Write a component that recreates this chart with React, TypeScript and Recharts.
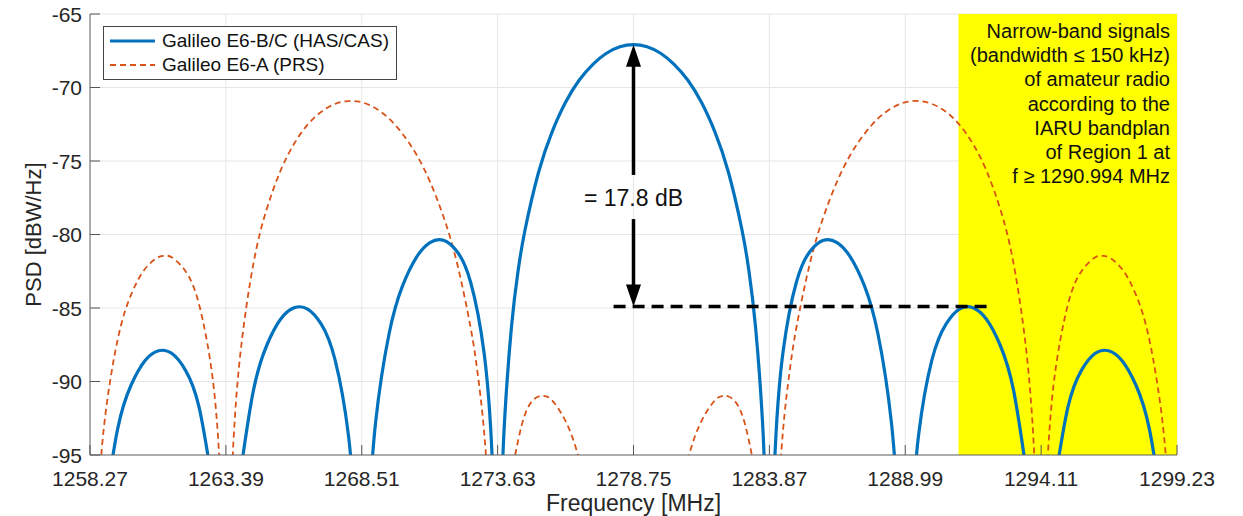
import React from 'react';
import {
  CartesianGrid,
  Legend,
  Line,
  LineChart,
  ReferenceArea,
  ReferenceDot,
  ReferenceLine,
  XAxis,
  YAxis,
} from 'recharts';

// ----------------------------------------------------------------------

const FONT = '"Liberation Sans", Arial, Helvetica, sans-serif';
const BLUE = '#0072BD';
const ORANGE = '#D95319';

const freqTicks = [1258.27, 1263.39, 1268.51, 1273.63, 1278.75, 1283.87, 1288.99, 1294.11, 1299.23];
const psdTicks = [-95, -90, -85, -80, -75, -70, -65];

// Galileo E6-B/C (HAS/CAS); null = spectral null (−∞ dB)
const e6bcFreq = [
  1258.29, 1258.8, 1259.31, 1259.82, 1260.34, 1260.85, 1261.36, 1261.87, 1262.38, 1262.89,
  1263.41, 1263.92, 1264.43, 1264.94, 1265.45, 1265.96, 1266.47, 1266.99, 1267.5,
  1268.01, 1268.26, 1268.52, 1268.78, 1269.03, 1269.54, 1270.05, 1270.57, 1271.08,
  1271.59, 1272.1, 1272.61, 1273.12, 1273.38, 1273.48, 1273.64, 1273.79, 1273.89, 1274.15,
  1274.4, 1274.66, 1275.17, 1275.68, 1276.19, 1276.7, 1277.22, 1277.73, 1278.24, 1278.75,
  1279.26, 1279.77, 1280.28, 1280.8, 1281.31, 1281.82, 1282.33, 1282.84, 1283.1, 1283.35,
  1283.61, 1283.71, 1283.87, 1284.02, 1284.12, 1284.38, 1284.89, 1285.4, 1285.91,
  1286.42, 1286.93, 1287.45, 1287.96, 1288.47, 1288.72, 1288.98, 1289.24, 1289.49, 1290.0,
  1290.52, 1291.03, 1291.54, 1292.05, 1292.56, 1293.07, 1293.58, 1294.1, 1294.61,
  1295.12, 1295.63, 1296.14, 1296.65, 1297.16, 1297.68, 1298.19, 1298.7, 1299.21,
];
const e6bcPsd = [
  null, -99.05, -93.24, -90.24, -88.59, -87.91, -88.1, -89.24, -91.75, -97.06,
  null, -96.48, -90.59, -87.5, -85.77, -84.99, -85.07, -86.11, -88.5,
  -93.68, -99.38, null, -98.95, -92.81, -86.75, -83.48, -81.55, -80.55,
  -80.39, -81.15, -83.23, -88.06, -93.57, -97.82, null, -97.3, -92.7, -86.32,
  -82.48, -79.71, -75.78, -73.03, -71.01, -69.51, -68.42, -67.67, -67.23, -67.09,
  -67.23, -67.67, -68.42, -69.51, -71.01, -73.03, -75.78, -79.71, -82.48, -86.32,
  -92.7, -97.3, null, -97.82, -93.57, -88.06, -83.23, -81.15, -80.39,
  -80.55, -81.55, -83.48, -86.75, -92.81, -98.95, null, -99.38, -93.68, -88.5,
  -86.11, -85.07, -84.99, -85.77, -87.5, -90.59, -96.48, null, -97.06,
  -91.75, -89.24, -88.1, -87.91, -88.59, -90.24, -93.24, -99.05, null,
];

// Galileo E6-A (PRS)
const e6aFreq = [
  1258.29, 1258.55, 1258.8, 1259.31, 1259.82, 1260.34, 1260.85, 1261.1, 1261.36, 1261.87,
  1262.38, 1262.89, 1263.15, 1263.41, 1263.56, 1263.66, 1263.92, 1264.43, 1264.94, 1265.45,
  1265.96, 1266.47, 1266.99, 1267.5, 1268.01, 1268.52, 1269.03, 1269.54, 1270.05, 1270.57,
  1271.08, 1271.59, 1272.1, 1272.61, 1272.87, 1273.12, 1273.38, 1273.64, 1274.15, 1274.66,
  1275.17, 1275.43, 1275.68, 1276.19, 1276.7, 1277.22, 1278.75, 1280.28, 1280.8, 1281.31,
  1281.82, 1282.07, 1282.33, 1282.84, 1283.35, 1283.87, 1284.12, 1284.38, 1284.63, 1284.89,
  1285.4, 1285.91, 1286.42, 1286.93, 1287.45, 1287.96, 1288.47, 1288.98, 1289.49, 1290.0,
  1290.52, 1291.03, 1291.54, 1292.05, 1292.56, 1293.07, 1293.58, 1293.84, 1293.94, 1294.1,
  1294.35, 1294.61, 1295.12, 1295.63, 1296.14, 1296.4, 1296.65, 1297.16, 1297.68, 1298.19,
  1298.7, 1298.95, 1299.21,
];
const e6aPsd = [
  null, -99.05, -93.02, -87.17, -84.09, -82.35, -81.54, -81.45, -81.56, -82.5,
  -84.76, -89.76, -95.37, null, -99.24, -94.63, -88.38, -81.96, -78.21, -75.66,
  -73.83, -72.53, -71.65, -71.12, -70.92, -71.01, -71.41, -72.12, -73.16, -74.56,
  -76.4, -78.79, -81.94, -86.31, -89.35, -93.42, -100.07, null, -96.35, -92.25,
  -91.02, -91.0, -91.28, -92.69, -95.28, -99.35, null, -99.35, -95.28, -92.69,
  -91.28, -91.0, -91.02, -92.25, -96.35, null, -100.07, -93.42, -89.35, -86.31,
  -81.94, -78.79, -76.4, -74.56, -73.16, -72.12, -71.41, -71.01, -70.92, -71.12,
  -71.65, -72.53, -73.83, -75.66, -78.21, -81.96, -88.38, -94.63, -99.24, null,
  -95.37, -89.76, -84.76, -82.5, -81.56, -81.45, -81.54, -82.35, -84.09, -87.17,
  -93.02, -99.05, null,
];

const amateurStart = 1290.994;
const amateurNote = [
  'Narrow-band signals',
  '(bandwidth \u2264 150 kHz)',
  'of amateur radio',
  'according to the',
  'IARU bandplan',
  'of Region 1 at',
  'f \u2265 1290.994 MHz',
];

const centerFreq = 1278.75;
const mainPeak = -67.1;
const sideLobePeak = -84.9;
const diffLabel = '= 17.8 dB';

const e6bcData = e6bcFreq.map((f, i) => ({ f, psd: e6bcPsd[i] }));
const e6aData = e6aFreq.map((f, i) => ({ f, psd: e6aPsd[i] }));

// ----------------------------------------------------------------------

function XTick({ x, y, payload }: any) {
  return (
    <g>
      <line x1={x} y1={y - 4} x2={x} y2={y - 14} stroke="#555" strokeWidth={1} />
      <text x={x} y={y + 19} textAnchor="middle" dominantBaseline="central" fontSize={21} fill="#262626" fontFamily={FONT}>
        {Number(payload.value).toFixed(2)}
      </text>
    </g>
  );
}

function YTick({ x, y, payload }: any) {
  return (
    <g>
      <line x1={x + 8} y1={y} x2={x + 18} y2={y} stroke="#555" strokeWidth={1} />
      <text x={x} y={y} textAnchor="end" dominantBaseline="central" fontSize={21} fill="#262626" fontFamily={FONT}>
        {payload.value}
      </text>
    </g>
  );
}

function LegendBox() {
  return (
    <div
      style={{
        width: 294,
        boxSizing: 'border-box',
        border: '1px solid #444',
        background: '#fff',
        padding: '2px 0 2px 6px',
        fontFamily: FONT,
        fontSize: 19,
        lineHeight: '24px',
        color: '#111',
      }}
    >
      <div style={{ display: 'flex', alignItems: 'center' }}>
        <svg width={46} height={10}>
          <line x1={0} y1={5} x2={45} y2={5} stroke={BLUE} strokeWidth={3.2} />
        </svg>
        <span style={{ marginLeft: 6 }}>Galileo E6-B/C (HAS/CAS)</span>
      </div>
      <div style={{ display: 'flex', alignItems: 'center' }}>
        <svg width={46} height={10}>
          <line x1={0} y1={5} x2={45} y2={5} stroke={ORANGE} strokeWidth={1.8} strokeDasharray="6 4" />
        </svg>
        <span style={{ marginLeft: 6 }}>Galileo E6-A (PRS)</span>
      </div>
    </div>
  );
}

function NoteLabel(props: any) {
  const vb = props.viewBox;
  const xr = vb.x + vb.width - 7;
  return (
    <text x={xr} y={vb.y + 17} textAnchor="end" dominantBaseline="central" fontSize={20} fill="#111" fontFamily={FONT}>
      {amateurNote.map((line, i) => (
        <tspan key={i} x={xr} dy={i === 0 ? 0 : 24.2}>
          {line}
        </tspan>
      ))}
    </text>
  );
}

// ----------------------------------------------------------------------

export default function App() {
  return (
    <div style={{ width: 1243, height: 516, margin: '-8px 0 0 -8px', fontFamily: FONT }}>
      <LineChart width={1243} height={516} margin={{ top: 14, right: 66, left: 0, bottom: 8 }}>
        <CartesianGrid stroke="#e6e6e6" strokeWidth={1} />
        <XAxis
          type="number"
          dataKey="f"
          domain={[1258.27, 1299.23]}
          ticks={freqTicks}
          allowDataOverflow
          height={53}
          tickSize={0}
          tickMargin={4}
          tick={<XTick />}
          axisLine={{ stroke: '#666', strokeWidth: 1 }}
          label={{
            content: (p: any) => (
              <text
                x={p.viewBox.x + p.viewBox.width / 2}
                y={p.viewBox.y + 48}
                textAnchor="middle"
                dominantBaseline="central"
                fontSize={23}
                fill="#262626"
                fontFamily={FONT}
              >
                Frequency [MHz]
              </text>
            ),
          }}
        />
        <YAxis
          type="number"
          domain={[-95, -65]}
          ticks={psdTicks}
          allowDataOverflow
          width={90}
          tickSize={0}
          tickMargin={8}
          tick={<YTick />}
          axisLine={{ stroke: '#666', strokeWidth: 1 }}
          label={{
            content: (p: any) => {
              const cx = 33;
              const cy = p.viewBox.y + p.viewBox.height / 2;
              return (
                <text
                  x={cx}
                  y={cy}
                  transform={`rotate(-90 ${cx} ${cy})`}
                  textAnchor="middle"
                  dominantBaseline="central"
                  fontSize={22}
                  fill="#262626"
                  fontFamily={FONT}
                >
                  PSD [dBW/Hz]
                </text>
              );
            },
          }}
        />
        <ReferenceArea
          x1={amateurStart}
          x2={1299.23}
          y1={-95}
          y2={-65}
          fill="#ffff00"
          fillOpacity={1}
          stroke="none"
          label={(p: any) => <NoteLabel {...p} />}
        />
        <Line
          data={e6aData}
          dataKey="psd"
          type="natural"
          stroke={ORANGE}
          strokeWidth={1.8}
          strokeDasharray="6 4"
          dot={false}
          activeDot={false}
          connectNulls={false}
          isAnimationActive={false}
        />
        <Line
          data={e6bcData}
          dataKey="psd"
          type="natural"
          stroke={BLUE}
          strokeWidth={3.2}
          dot={false}
          activeDot={false}
          connectNulls={false}
          isAnimationActive={false}
        />
        <ReferenceLine
          segment={[
            { x: 1278.0, y: sideLobePeak },
            { x: 1292.3, y: sideLobePeak },
          ]}
          stroke="#000"
          strokeWidth={3.5}
          strokeDasharray="12 7"
        />
        <ReferenceLine
          segment={[
            { x: centerFreq, y: mainPeak - 1 },
            { x: centerFreq, y: -75.95 },
          ]}
          stroke="#000"
          strokeWidth={3.5}
        />
        <ReferenceLine
          segment={[
            { x: centerFreq, y: -78.95 },
            { x: centerFreq, y: sideLobePeak + 1 },
          ]}
          stroke="#000"
          strokeWidth={3.5}
        />
        <ReferenceDot
          x={centerFreq}
          y={mainPeak}
          shape={(p: any) => (
            <polygon points={`${p.cx},${p.cy} ${p.cx - 7.5},${p.cy + 22} ${p.cx + 7.5},${p.cy + 22}`} fill="#000" />
          )}
        />
        <ReferenceDot
          x={centerFreq}
          y={sideLobePeak}
          shape={(p: any) => (
            <polygon points={`${p.cx},${p.cy} ${p.cx - 7.5},${p.cy - 22} ${p.cx + 7.5},${p.cy - 22}`} fill="#000" />
          )}
        />
        <ReferenceDot
          x={centerFreq}
          y={-77.5}
          shape={(p: any) => (
            <text x={p.cx} y={p.cy} textAnchor="middle" dominantBaseline="central" fontSize={23} fill="#111" fontFamily={FONT}>
              {diffLabel}
            </text>
          )}
        />
        <Legend
          layout="vertical"
          align="center"
          verticalAlign="middle"
          content={() => <LegendBox />}
          wrapperStyle={{ position: 'absolute', left: 103, top: 26, width: 'auto', height: 'auto' }}
        />
      </LineChart>
    </div>
  );
}
